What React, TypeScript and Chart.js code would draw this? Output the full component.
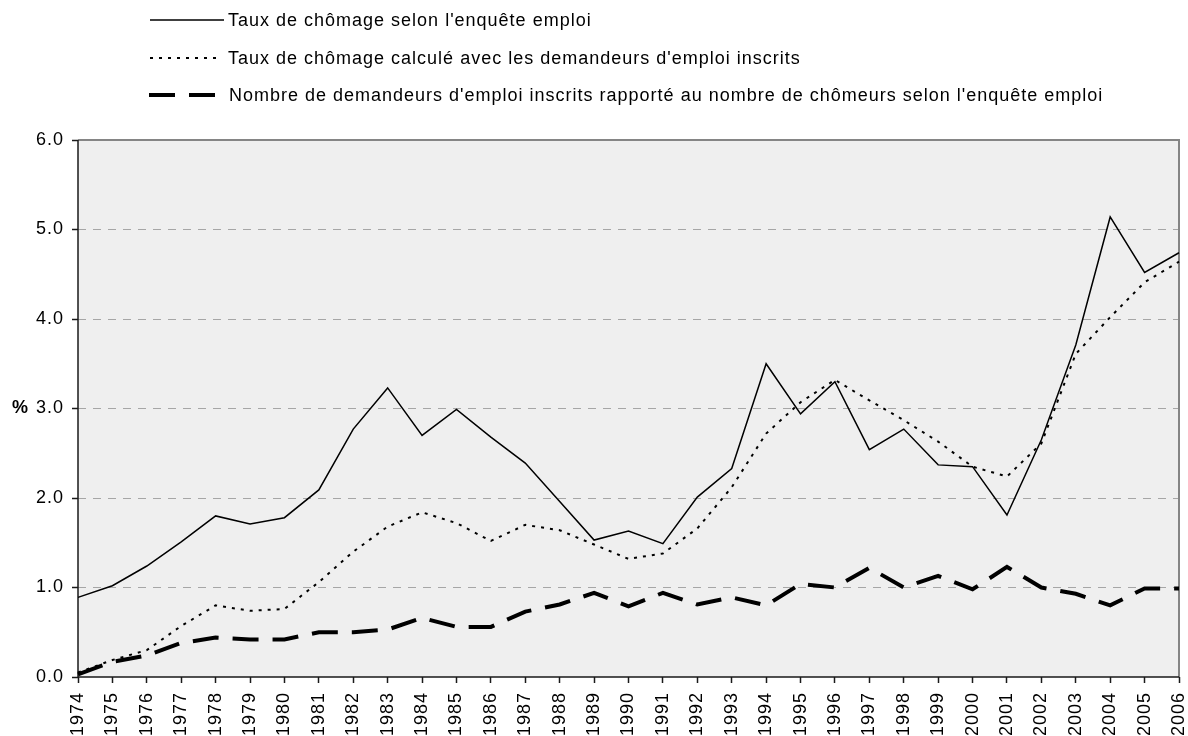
import React, { useEffect, useRef } from "react";
import { Chart, registerables } from "chart.js";

Chart.register(...registerables);

const years = [
  "1974", "1975", "1976", "1977", "1978", "1979", "1980", "1981", "1982", "1983",
  "1984", "1985", "1986", "1987", "1988", "1989", "1990", "1991", "1992", "1993",
  "1994", "1995", "1996", "1997", "1998", "1999", "2000", "2001", "2002", "2003",
  "2004", "2005", "2006",
];

const tauxEnquete = [
  0.89, 1.02, 1.24, 1.51, 1.8, 1.71, 1.78, 2.09, 2.77, 3.23,
  2.7, 2.99, 2.68, 2.39, 1.96, 1.53, 1.63, 1.49, 2.01, 2.33,
  3.5, 2.94, 3.3, 2.54, 2.77, 2.37, 2.35, 1.81, 2.65, 3.71,
  5.14, 4.52, 4.74,
];

const tauxInscrits = [
  0.05, 0.19, 0.3, 0.57, 0.8, 0.74, 0.76, 1.06, 1.4, 1.68,
  1.84, 1.72, 1.52, 1.7, 1.64, 1.48, 1.32, 1.38, 1.66, 2.12,
  2.72, 3.07, 3.32, 3.09, 2.87, 2.63, 2.35, 2.24, 2.61, 3.61,
  4.02, 4.41, 4.64,
];

const ratioInscrits = [
  0.03, 0.17, 0.24, 0.38, 0.44, 0.42, 0.42, 0.5, 0.5, 0.53,
  0.66, 0.56, 0.56, 0.73, 0.81, 0.94, 0.79, 0.94, 0.81, 0.89,
  0.8, 1.04, 1.0, 1.22, 1.0, 1.13, 0.98, 1.23, 1.0, 0.93,
  0.8, 0.99, 0.99,
];

const legendLabels = [
  "Taux de chômage selon l'enquête emploi",
  "Taux de chômage calculé avec les demandeurs d'emploi inscrits",
  "Nombre de demandeurs d'emploi inscrits rapporté au nombre de chômeurs selon l'enquête emploi",
];

const yAxisLabel = "%";

const FONT = "'Liberation Sans', Arial, sans-serif";

export default function App() {
  const canvasRef = useRef<HTMLCanvasElement | null>(null);

  useEffect(() => {
    document.body.style.margin = "0";
    const canvas = canvasRef.current;
    if (!canvas) return;

    const decorPlugin = {
      id: "decor",
      beforeInit(chart: any) {
        chart.ctx.letterSpacing = "1px";
      },
      beforeDraw(chart: any) {
        const { ctx, chartArea } = chart;
        ctx.letterSpacing = "1px";
        ctx.save();
        ctx.fillStyle = "#efefef";
        ctx.fillRect(chartArea.left, chartArea.top, chartArea.right - chartArea.left, chartArea.bottom - chartArea.top);
        ctx.restore();
      },
      beforeDatasetsDraw(chart: any) {
        const { ctx, chartArea } = chart;
        const { left, right, top, bottom } = chartArea;
        ctx.save();
        ctx.setLineDash([]);
        ctx.strokeStyle = "#858585";
        ctx.lineWidth = 2;
        ctx.beginPath();
        ctx.moveTo(left, top);
        ctx.lineTo(right, top);
        ctx.lineTo(right, bottom);
        ctx.stroke();
        ctx.strokeStyle = "#1a1a1a";
        ctx.lineWidth = 1.5;
        ctx.beginPath();
        ctx.moveTo(left, top);
        ctx.lineTo(left, bottom);
        ctx.lineTo(right, bottom);
        ctx.stroke();
        ctx.restore();
      },
      afterDraw(chart: any) {
        const { ctx, scales } = chart;
        ctx.save();
        ctx.letterSpacing = "0px";
        ctx.fillStyle = "#000";
        ctx.font = `bold 18px ${FONT}`;
        ctx.textAlign = "center";
        ctx.textBaseline = "middle";
        const yMid = scales.y.getPixelForValue(3);
        ctx.fillText(yAxisLabel, 20, yMid);

        const rows = [20, 58, 95];
        ctx.font = `18px ${FONT}`;
        ctx.letterSpacing = "1px";
        ctx.textAlign = "left";
        ctx.strokeStyle = "#000";

        // row 1: solid
        ctx.lineWidth = 1.5;
        ctx.setLineDash([]);
        ctx.beginPath();
        ctx.moveTo(150, rows[0]);
        ctx.lineTo(224, rows[0]);
        ctx.stroke();
        // row 2: dotted
        ctx.lineWidth = 2;
        ctx.setLineDash([3, 6]);
        ctx.beginPath();
        ctx.moveTo(150, rows[1]);
        ctx.lineTo(219, rows[1]);
        ctx.stroke();
        // row 3: dashed
        ctx.lineWidth = 4;
        ctx.setLineDash([26, 14]);
        ctx.lineDashOffset = 0;
        ctx.beginPath();
        ctx.moveTo(149, rows[2]);
        ctx.lineTo(215, rows[2]);
        ctx.stroke();
        ctx.setLineDash([]);

        rows.forEach((y, i) => {
          ctx.fillText(legendLabels[i], i === 2 ? 229 : 228, y + 1);
        });
        ctx.restore();
      },
    };

    const chart = new Chart(canvas, {
      type: "line",
      data: {
        labels: years,
        datasets: [
          {
            label: legendLabels[0],
            data: tauxEnquete,
            borderColor: "#000",
            borderWidth: 1.5,
            pointRadius: 0,
            tension: 0,
            fill: false,
          },
          {
            label: legendLabels[1],
            data: tauxInscrits,
            borderColor: "#000",
            borderWidth: 2,
            borderDash: [3, 6],
            pointRadius: 0,
            tension: 0,
            fill: false,
          },
          {
            label: legendLabels[2],
            data: ratioInscrits,
            borderColor: "#000",
            borderWidth: 4,
            borderDash: [26, 14],
            pointRadius: 0,
            tension: 0,
            fill: false,
          },
        ],
      },
      options: {
        responsive: false,
        animation: false,
        devicePixelRatio: 1,
        layout: { padding: { top: 140, right: 9, left: 0, bottom: 0 } },
        plugins: {
          legend: { display: false },
          tooltip: { enabled: false },
        },
        scales: {
          x: {
            type: "category",
            offset: false,
            border: { display: false },
            grid: {
              drawOnChartArea: false,
              drawTicks: true,
              tickLength: 6,
              tickColor: "#1a1a1a",
              tickWidth: 1.5,
              color: "#1a1a1a",
            },
            ticks: {
              autoSkip: false,
              maxRotation: 90,
              minRotation: 90,
              padding: 9,
              color: "#000",
              font: { family: FONT, size: 18 },
            },
            afterFit(scale: any) {
              scale.height = 59;
              scale.paddingLeft = 0;
              scale.paddingRight = 0;
            },
          },
          y: {
            min: 0,
            max: 6,
            border: { display: false, dash: [8, 7] },
            grid: {
              drawOnChartArea: true,
              drawTicks: true,
              tickLength: 6,
              tickColor: "#1a1a1a",
              tickWidth: 1.5,
              lineWidth: 1,
              color: (ctx: any) =>
                ctx.tick && (ctx.tick.value === 0 || ctx.tick.value === 6)
                  ? "rgba(0,0,0,0)"
                  : "#a6a6a6",
            },
            ticks: {
              stepSize: 1,
              padding: 8,
              color: "#000",
              font: { family: FONT, size: 18 },
              callback: (v: any) => Number(v).toFixed(1),
            },
            afterFit(scale: any) {
              scale.width = 78;
              scale.paddingTop = 0;
              scale.paddingBottom = 0;
            },
          },
        },
      },
      plugins: [decorPlugin],
    });

    return () => {
      chart.destroy();
    };
  }, []);

  return (
    <div style={{ width: 1188, height: 736 }}>
      <canvas ref={canvasRef} width={1188} height={736} style={{ display: "block" }} />
    </div>
  );
}
